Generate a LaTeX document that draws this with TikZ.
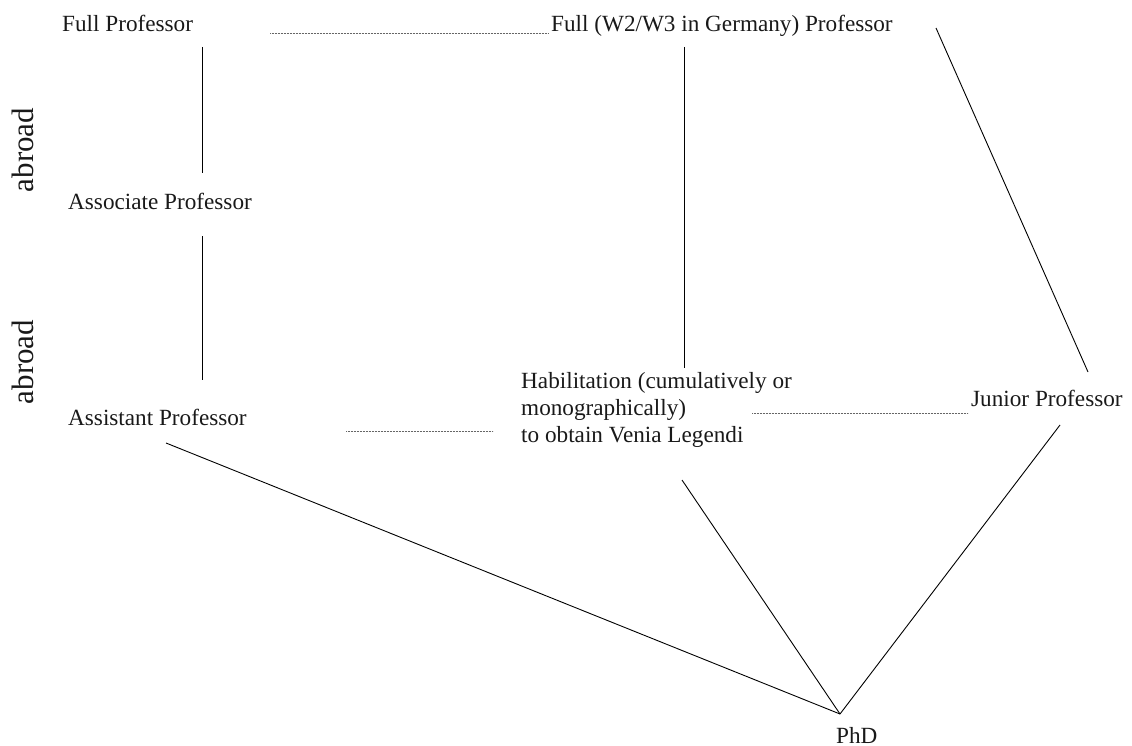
\documentclass[tikz,border=0pt]{standalone}
\usepackage{fontspec}
\setmainfont{Liberation Serif}
\begin{document}
\begin{tikzpicture}[x=1pt,y=-1pt,
  lbl/.style={inner sep=0pt, text=black!90, font=\fontsize{23.2}{27}\selectfont},
  side/.style={inner sep=0pt, text=black!90, rotate=90, font=\fontsize{31}{34}\selectfont},
  solidline/.style={draw=black, line width=0.9pt},
  dotline/.style={draw=black!60, line width=0.8pt, dash pattern=on 0.6pt off 0.9pt}]
\useasboundingbox (0,0) rectangle (1132,746);
% nodes
\node[lbl, anchor=base west] (full) at (62,32) {Full Professor};
\node[lbl, anchor=base west] (fullw) at (551,32) {Full (W2/W3 in Germany) Professor};
\node[lbl, anchor=base west] (assoc) at (68,210) {Associate Professor};
\node[lbl, anchor=base west] (assist) at (68,425) {Assistant Professor};
\node[lbl, anchor=north west, align=left] (habil) at (521,372) {Habilitation (cumulatively or\\monographically)\\to obtain Venia Legendi};
\node[lbl, anchor=base west] (junior) at (971,406) {Junior Professor};
\node[lbl, anchor=base west] (phd) at (836,743) {PhD};
\node[side] (abroad1) at (23,150) {abroad};
\node[side] (abroad2) at (23,362) {abroad};
% connector end points
\coordinate (fullB) at (202,47);
\coordinate (assocT) at (202,173);
\coordinate (assocB) at (202,236);
\coordinate (assistT) at (202,380);
\coordinate (fullwB) at (684,47);
\coordinate (habilT) at (684,368);
\coordinate (fullwR) at (936,28);
\coordinate (juniorT) at (1088,372);
\coordinate (assistB) at (166,443);
\coordinate (habilB) at (682,480);
\coordinate (juniorB) at (1060,425);
\coordinate (phdT) at (840,714);
\coordinate (fullR) at (270,33);
\coordinate (fullwL) at (548,33);
\coordinate (assistR) at (346,431);
\coordinate (habilL) at (493,431);
\coordinate (habilR) at (752,413);
\coordinate (juniorL) at (968,413);
% solid connectors
\draw[solidline] (fullB) -- (assocT);
\draw[solidline] (assocB) -- (assistT);
\draw[solidline] (fullwB) -- (habilT);
\draw[solidline] (fullwR) -- (juniorT);
\draw[solidline] (assistB) -- (phdT);
\draw[solidline] (habilB) -- (phdT);
\draw[solidline] (juniorB) -- (phdT);
% dotted connectors
\draw[dotline] (fullR) -- (fullwL);
\draw[dotline] (assistR) -- (habilL);
\draw[dotline] (habilR) -- (juniorL);
\end{tikzpicture}
\end{document}
